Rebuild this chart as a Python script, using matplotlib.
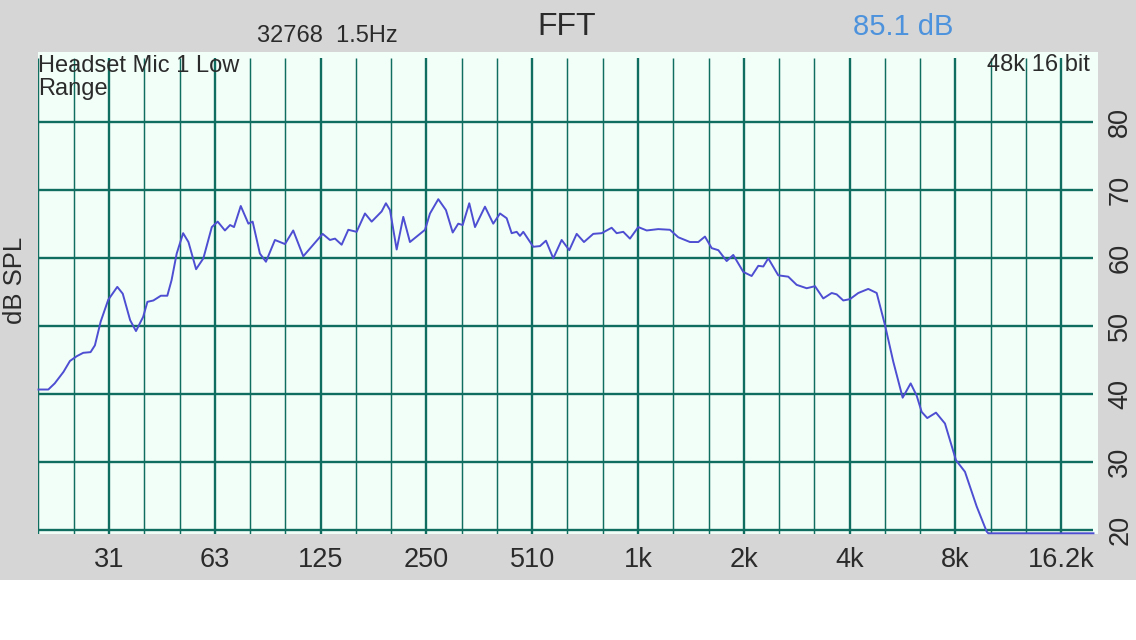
import matplotlib
matplotlib.use("Agg")
import matplotlib.pyplot as plt
from matplotlib.patches import Rectangle

# ---------------- data ----------------
freqs_hz = [19.7, 21.0, 21.9, 23.2, 24.2, 25.3, 26.4, 27.7, 28.5, 29.6,
            31.1, 33.0, 34.2, 35.9, 37.3, 39.1, 40.2, 41.8, 43.9, 45.8,
            47.1, 48.7, 50.8, 52.6, 55.3, 58.0, 61.3, 63.7, 66.8, 69.1,
            70.9, 74.1, 77.9, 80.1, 84.0, 87.4, 92.7, 99.0, 104.5, 111.6,
            120.5, 126.7, 132.9, 137.4, 143.5, 149.9, 158.3, 167.2, 174.7, 186.5,
            191.8, 197.0, 205.8, 214.9, 224.5, 234.6, 247.8, 256.0, 270.3, 284.2,
            297.1, 308.1, 317.1, 331.1, 343.8, 367.0, 387.5, 405.0, 423.1, 437.1,
            451.7, 461.6, 471.7, 503.6, 526.2, 547.3, 574.1, 606.6, 637.6, 669.3,
            702.0, 746.1, 788.4, 841.6, 869.7, 908.2, 948.9, 1002, 1059, 1142,
            1233, 1302, 1406, 1485, 1551, 1621, 1693, 1788, 1867, 1994,
            2106, 2200, 2273, 2348, 2507, 2677, 2828, 3020, 3189, 3367,
            3558, 3676, 3839, 4011, 4235, 4521, 4778, 5044, 5326, 5664,
            5969, 6208, 6416, 6655, 7046, 7473, 8032, 8519, 9198, 9821,
            9925, 19770]

levels_db = [40.6, 40.6, 41.5, 43.2, 44.8, 45.5, 46.0, 46.1, 47.1, 50.6,
             53.8, 55.7, 54.7, 50.8, 49.2, 51.3, 53.5, 53.7, 54.4, 54.4,
             56.7, 60.6, 63.6, 62.3, 58.3, 59.9, 64.5, 65.3, 64.0, 64.8,
             64.5, 67.6, 65.0, 65.3, 60.6, 59.4, 62.6, 62.0, 64.0, 60.2,
             62.2, 63.5, 62.6, 62.8, 61.9, 64.1, 63.8, 66.5, 65.3, 66.8,
             68.0, 67.0, 61.2, 66.0, 62.3, 63.1, 64.1, 66.5, 68.6, 67.0,
             63.7, 65.0, 64.8, 68.0, 64.5, 67.5, 65.0, 66.5, 65.8, 63.6,
             63.8, 63.2, 63.8, 61.6, 61.7, 62.5, 59.9, 62.6, 61.1, 63.5,
             62.3, 63.5, 63.6, 64.4, 63.6, 63.8, 62.8, 64.5, 64.0, 64.2,
             64.1, 63.0, 62.3, 62.3, 63.1, 61.4, 61.1, 59.5, 60.4, 57.9,
             57.3, 58.8, 58.7, 59.9, 57.4, 57.2, 56.0, 55.5, 55.8, 54.0,
             54.8, 54.6, 53.7, 53.9, 54.8, 55.4, 54.8, 50.1, 44.7, 39.4,
             41.5, 39.7, 37.3, 36.4, 37.2, 35.6, 30.2, 28.5, 23.4, 19.7,
             19.45, 19.45]

xtick_freqs = [31.25, 62.5, 125, 250, 500, 1000, 2000, 4000, 8000, 16000]
xtick_labels = ['31', '63', '125', '250', '510', '1k', '2k', '4k', '8k', '16.2k']
ytick_levels = [20, 30, 40, 50, 60, 70, 80]
ytick_labels = ['20', '30', '40', '50', '60', '70', '80']
third_octave_grid = [1000 * 2 ** (k / 3) for k in range(-17, 13)]

# ---------------- style ----------------
plt.rcParams['font.family'] = ['Liberation Sans', 'DejaVu Sans']
GRAY = '#D6D6D6'
MINT = '#F2FFF8'
TEAL = '#0F6E5F'
CURVE = '#4E4ED2'
TXT = '#2B2B2B'

W, H = 1136, 640
fig = plt.figure(figsize=(W / 100, H / 100), dpi=100)
fig.patch.set_facecolor('white')
fig.patches.append(Rectangle((0, 60 / H), 1, 1 - 60 / H, transform=fig.transFigure,
                             facecolor=GRAY, edgecolor='none', zorder=-10))

ax = fig.add_axes([38 / W, 1 - 534.3 / H, (1097.5 - 38) / W, (534.3 - 51.7) / H])
ax.set_facecolor(MINT)
ax.set_xscale('log')
ax.set_xlim(19.63, 20300)
ax.set_ylim(19.3, 90.3)
for s in ax.spines.values():
    s.set_visible(False)

# grid
for f in third_octave_grid:
    is_oct = any(abs(f - t) / t < 1e-3 for t in xtick_freqs)
    ax.vlines(f, 19.3, 89.4, colors=TEAL, linewidth=1.7 if is_oct else 1.05, zorder=1)
ax.hlines(ytick_levels, 19.63, 19770, colors=TEAL, linewidth=1.7, zorder=1)

# curve
ax.plot(freqs_hz, levels_db, color=CURVE, linewidth=1.4, zorder=3, clip_on=False,
        solid_joinstyle='round')

# ticks
ax.set_xticks(xtick_freqs)
ax.set_xticklabels(xtick_labels)
ax.xaxis.set_minor_locator(matplotlib.ticker.NullLocator())
ax.set_yticks(ytick_levels)
ax.set_yticklabels(ytick_labels)
ax.yaxis.tick_right()
ax.tick_params(axis='x', length=0, pad=9, labelsize=19.5, labelcolor=TXT)
ax.tick_params(axis='y', length=0, pad=7, labelsize=19.5, labelcolor=TXT,
               labelrotation=90, labelleft=False, labelright=True)
for lbl in ax.get_yticklabels():
    lbl.set_va('center')

# texts
ax.text(0.0, 0.993, 'Headset Mic 1 Low\nRange', transform=ax.transAxes,
        ha='left', va='top', fontsize=17, color=TXT, linespacing=1.05, zorder=5)
ax.text(1090 / W, 1 - 65 / H, '48k 16 bit', transform=fig.transFigure,
        ha='right', va='center', fontsize=17, color=TXT, zorder=5)
fig.text(15.5 / W, 1 - 280 / H, 'dB SPL', rotation=90, ha='center', va='center',
         fontsize=18.5, color=TXT)
fig.text(327 / W, 1 - 36 / H, '32768  1.5Hz', ha='center', va='center',
         fontsize=17, color=TXT)
fig.text(567 / W, 1 - 27 / H, 'FFT', ha='center', va='center',
         fontsize=23, color=TXT)
fig.text(903 / W, 1 - 27 / H, '85.1 dB', ha='center', va='center',
         fontsize=21, color='#4C92DC')

fig.savefig('out.png', dpi=100, facecolor=fig.get_facecolor())
